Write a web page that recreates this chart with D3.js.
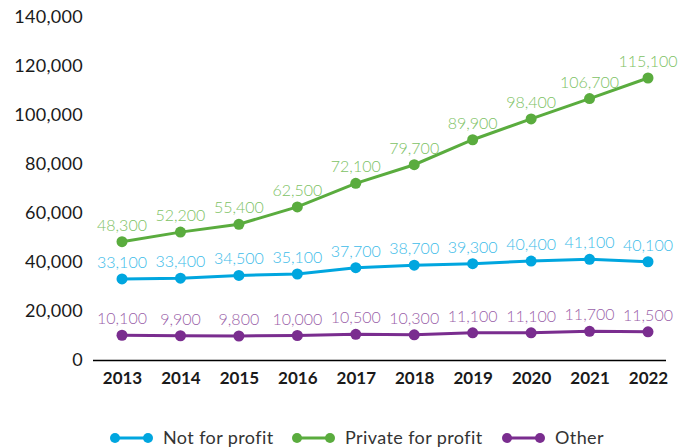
<!DOCTYPE html>
<html>
<head>
<meta charset="utf-8">
<script src="https://cdn.jsdelivr.net/npm/d3@7.9.0/dist/d3.min.js"></script>
<style>
  body { margin: 0; background: #fff; }
  svg text { font-family: Lato, "Noto Sans", sans-serif; }
</style>
</head>
<body>
<svg id="chart" width="685" height="448"></svg>
<script>
const years = [2013, 2014, 2015, 2016, 2017, 2018, 2019, 2020, 2021, 2022];
const notForProfit = [33100, 33400, 34500, 35100, 37700, 38700, 39300, 40400, 41100, 40100];
const privateForProfit = [48300, 52200, 55400, 62500, 72100, 79700, 89900, 98400, 106700, 115100];
const other = [10100, 9900, 9800, 10000, 10500, 10300, 11100, 11100, 11700, 11500];
const yTicks = [0, 20000, 40000, 60000, 80000, 100000, 120000, 140000];

const series = [
  { name: "Not for profit", values: notForProfit, color: "#00a6df", label: "#3dbce9" },
  { name: "Private for profit", values: privateForProfit, color: "#5aac3e", label: "#7dc264" },
  { name: "Other", values: other, color: "#7a2d8f", label: "#9a5fa9" }
];

const svg = d3.select("#chart");

const x = d3.scalePoint().domain(years).range([122, 648]);
const y = d3.scaleLinear().domain([0, 140000]).range([360, 17]);
const fmt = d3.format(",");

// y axis labels (no line)
const yAxis = svg.append("g")
  .attr("transform", "translate(83,0)")
  .call(d3.axisLeft(y).tickValues(yTicks).tickFormat(fmt).tickSize(0).tickPadding(0));
yAxis.select(".domain").remove();
yAxis.selectAll("text")
  .attr("font-size", 18)
  .attr("letter-spacing", 0.3)
  .attr("fill", "#1a1a1a")
  .style("font-family", "Lato, 'Noto Sans', sans-serif");

// x axis
const xAxis = svg.append("g")
  .attr("transform", "translate(0,360)")
  .call(d3.axisBottom(x).tickSize(0).tickPadding(12));
xAxis.select(".domain")
  .attr("d", "M93,0.5H666")
  .attr("stroke", "#000")
  .attr("stroke-width", 1.5);
xAxis.selectAll("text")
  .attr("font-size", 17)
  .attr("font-weight", "bold")
  .attr("fill", "#1a1a1a")
  .style("font-family", "Lato, 'Noto Sans', sans-serif");

const line = d3.line()
  .x((d, i) => x(years[i]))
  .y(d => y(d));

series.forEach(s => {
  const g = svg.append("g");
  g.append("path")
    .attr("d", line(s.values))
    .attr("fill", "none")
    .attr("stroke", s.color)
    .attr("stroke-width", 3);
  g.selectAll("circle")
    .data(s.values)
    .join("circle")
    .attr("cx", (d, i) => x(years[i]))
    .attr("cy", d => y(d))
    .attr("r", 5.5)
    .attr("fill", s.color);
  g.selectAll("text")
    .data(s.values)
    .join("text")
    .attr("x", (d, i) => x(years[i]))
    .attr("y", d => y(d) - 11)
    .attr("text-anchor", "middle")
    .attr("font-size", 16)
    .attr("font-weight", 300)
    .attr("fill", s.label)
    .text(d => fmt(d));
});

// legend
const legendX = [115, 297, 507];
const legend = svg.append("g").attr("transform", "translate(0,438)");
series.forEach((s, i) => {
  const lg = legend.append("g").attr("transform", `translate(${legendX[i]},0)`);
  lg.append("line")
    .attr("x1", 0).attr("x2", 33)
    .attr("stroke", s.color).attr("stroke-width", 3);
  lg.append("circle").attr("cx", 0).attr("r", 5).attr("fill", s.color);
  lg.append("circle").attr("cx", 33).attr("r", 5).attr("fill", s.color);
  lg.append("text")
    .attr("x", 48)
    .attr("dy", "0.35em")
    .attr("font-size", 18)
    .attr("letter-spacing", 0.4)
    .attr("fill", "#333")
    .text(s.name);
});
</script>
</body>
</html>
